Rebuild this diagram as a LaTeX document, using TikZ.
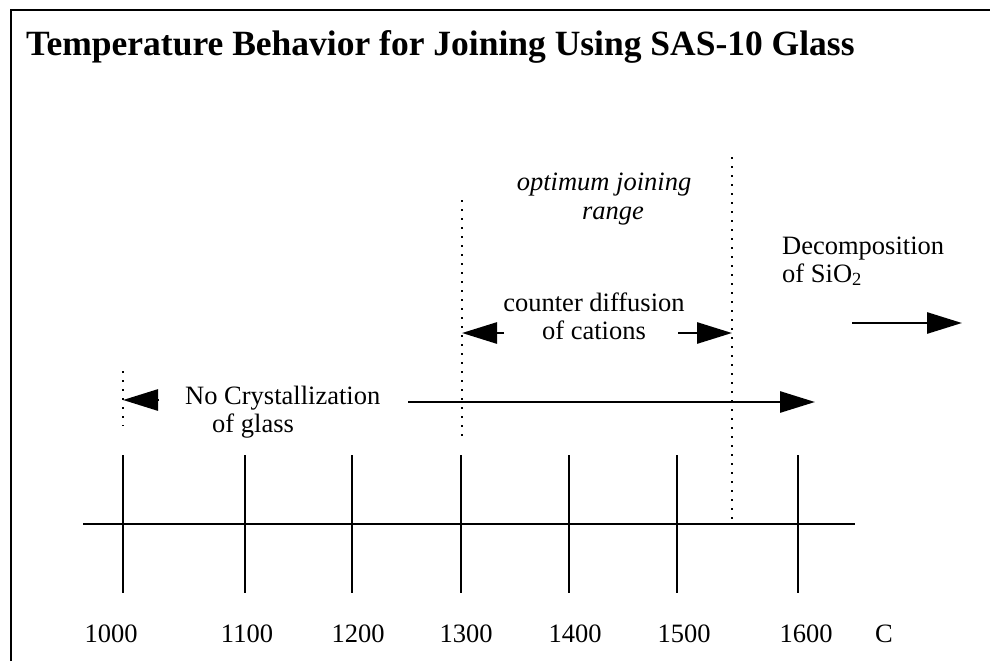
\documentclass[tikz,border=0pt]{standalone}
\usepackage{fontspec}
\setmainfont{Liberation Serif}
\usetikzlibrary{arrows.meta,positioning}
\tikzset{
  frameln/.style={line width=2.2pt},
  axln/.style={line width=2.6pt},
  tickln/.style={line width=2.6pt},
  guide/.style={line width=1.4pt,dash pattern=on 2.4pt off 6.6pt},
  harr/.style={line width=2.8pt,-{Triangle[length=35pt,width=21pt]}},
  txt/.style={font=\fontsize{26.5}{28}\selectfont,inner sep=0pt},
  ttl/.style={font=\fontsize{35.5}{40}\selectfont\bfseries,inner sep=0pt,anchor=base west},
}
\begin{document}
\begin{tikzpicture}[x=1pt,y=1pt]
  \useasboundingbox (0,0) rectangle (990,-661);
  % frame
  \draw[frameln] (11,-661) -- (11,-10) -- (990,-10);
  \node[ttl] (title) at (26,-56) {Temperature Behavior for Joining Using SAS-10 Glass};

  % temperature axis
  \coordinate (axl) at (83,-524);
  \coordinate (axr) at (855,-524);
  \draw[axln] (axl) -- (axr);
  \foreach \x/\t/\lx in {123/1000/111, 245/1100/247, 352/1200/358, 461/1300/466,
                         569/1400/575, 677/1500/684, 798/1600/806}{
    \draw[tickln] (\x,-455) -- (\x,-593);
    \node[txt,anchor=base] (t\t) at (\lx,-642) {\t};
  }
  \node[txt,anchor=base] (unit) at (884,-642) {C};

  % dotted limits
  \draw[guide] (123,-371) -- (123,-426);
  \draw[guide] (462,-200) -- (462,-442);
  \draw[guide] (732,-157) -- (732,-519);

  % labels
  \node[txt,align=left,anchor=base west] (nocry) at (185,-432)
    {No Crystallization\\\hspace*{27pt}of glass};
  \node[txt,align=center,anchor=base,font=\fontsize{26.5}{29}\selectfont\itshape] (opt) at (604,-219)
    {optimum joining\\\hspace*{18pt}range};
  \node[txt,align=center,anchor=base] (cdiff) at (594,-339) {counter diffusion\\of cations};
  \node[txt,align=left,anchor=base west] (decomp) at (782,-282) {Decomposition\\of SiO\textsubscript{2}};

  % arrows
  \coordinate (nc1) at (159,-400);
  \coordinate (nc2) at (123,-400);
  \coordinate (nc3) at (408,-402);
  \coordinate (nc4) at (815,-402);
  \draw[harr] (nc1) -- (nc2);
  \draw[harr] (nc3) -- (nc4);
  \coordinate (cd1) at (504,-333);
  \coordinate (cd2) at (462,-333);
  \coordinate (cd3) at (678,-333);
  \coordinate (cd4) at (732,-333);
  \draw[harr] (cd1) -- (cd2);
  \draw[harr] (cd3) -- (cd4);
  \coordinate (dc1) at (852,-323);
  \coordinate (dc2) at (962,-323);
  \draw[harr] (dc1) -- (dc2);
\end{tikzpicture}
\end{document}
